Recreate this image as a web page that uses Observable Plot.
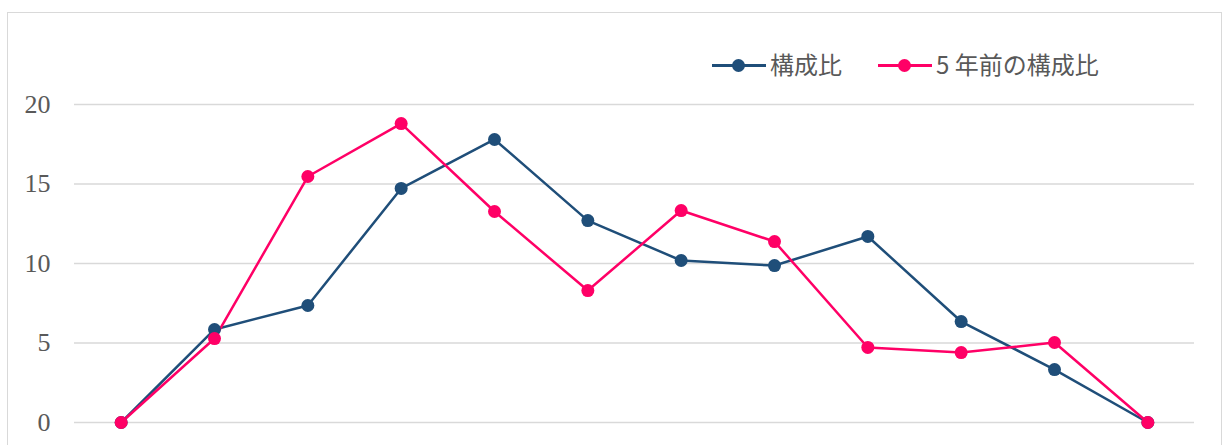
<!DOCTYPE html>
<html>
<head>
<meta charset="utf-8">
<script src="https://cdn.jsdelivr.net/npm/d3@7"></script>
<script src="https://cdn.jsdelivr.net/npm/@observablehq/plot@0.6"></script>
<style>
  html, body { margin: 0; padding: 0; background: #fff; }
  #wrap { position: relative; width: 1223px; height: 445px; overflow: hidden; }
  #frame { position: absolute; left: 7px; top: 12px; width: 1215px; height: 460px; border: 1.5px solid #d9d9d9; box-sizing: border-box; pointer-events: none; }
  #legend { position: absolute; left: 712px; top: 46px; display: flex; align-items: center; font-family: "Noto Sans CJK JP", "Liberation Serif", serif; font-size: 24px; color: #595959; }
  .item { display: flex; align-items: center; margin-right: 36px; }
  .sw { position: relative; width: 54px; height: 30px; margin-right: 4px; }
  .sw .ln { position: absolute; left: 0; right: 0; top: 15px; height: 3px; }
  .sw .dt { position: absolute; left: 20px; top: 10px; width: 13px; height: 13px; border-radius: 50%; }
</style>
</head>
<body>
<div id="wrap">
  <div id="chart"></div>
  <div id="frame"></div>
  <div id="legend"></div>
</div>
<script>
const categories = ["1","2","3","4","5","6","7","8","9","10","11","12"];
const seriesNames = ["構成比", "5 年前の構成比"];
const current = [0, 5.85, 7.36, 14.72, 17.8, 12.7, 10.19, 9.87, 11.7, 6.35, 3.33, 0];
const fiveYearsAgo = [0, 5.28, 15.47, 18.8, 13.27, 8.3, 13.33, 11.38, 4.72, 4.4, 5.03, 0];
const colors = ["#1f4e79", "#ff0066"];
const yTicks = [0, 5, 10, 15, 20];

const data = [];
categories.forEach((c, i) => {
  data.push({cat: c, series: seriesNames[0], value: current[i]});
});
categories.forEach((c, i) => {
  data.push({cat: c, series: seriesNames[1], value: fiveYearsAgo[i]});
});

const chart = Plot.plot({
  width: 1223,
  height: 445,
  marginLeft: 74,
  marginRight: 29,
  marginTop: 104,
  marginBottom: 23,
  style: {fontFamily: "'Liberation Serif', serif", fontSize: "26px", color: "#595959", background: "transparent"},
  x: {type: "point", domain: categories, padding: 0.5, round: false, axis: null},
  y: {domain: [0, 20], ticks: yTicks, tickSize: 0, tickPadding: 24, label: null, grid: false},
  color: {domain: seriesNames, range: colors},
  marks: [
    Plot.ruleY(yTicks, {stroke: "#d9d9d9", strokeWidth: 1.5}),
    Plot.line(data, {x: "cat", y: "value", z: "series", stroke: "series", strokeWidth: 2.5}),
    Plot.dot(data, {x: "cat", y: "value", fill: "series", r: 6.5})
  ]
});
document.getElementById("chart").appendChild(chart);

const legend = document.getElementById("legend");
seriesNames.forEach((name, i) => {
  const item = document.createElement("div");
  item.className = "item";
  item.innerHTML = `<div class="sw"><div class="ln" style="background:${colors[i]}"></div><div class="dt" style="background:${colors[i]}"></div></div><span>${name}</span>`;
  legend.appendChild(item);
});
</script>
</body>
</html>
